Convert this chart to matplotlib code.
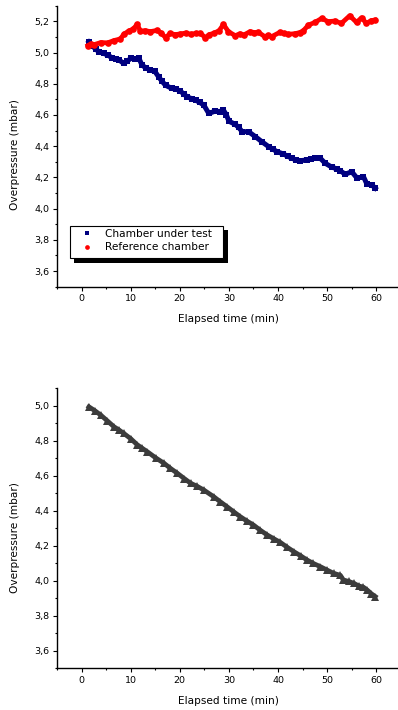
import matplotlib
matplotlib.use("Agg")
import matplotlib.pyplot as plt
from matplotlib.patches import Rectangle
from matplotlib.ticker import MultipleLocator, FuncFormatter

plt.rcParams['font.family'] = ['DejaVu Sans']

# Chamber under test (top panel)
t_test = [1.5, 2.2, 2.85, 3.6, 4.5, 5.3, 6.2, 7.0, 7.6, 8.6, 9.3, 10.0, 10.8, 11.65,
          12.3, 13.2, 14.0, 14.9, 15.7, 16.4, 17.1, 18.4, 19.3, 20.1, 20.8, 21.5,
          22.4, 23.2, 24.1, 24.9, 25.9, 27.25, 28.1, 28.9, 29.5, 30.0, 31.3, 32.0,
          32.7, 34.0, 35.4, 36.7, 38.1, 39.0, 39.8, 41.1, 42.0, 42.8, 43.7, 44.5,
          45.9, 46.8, 47.6, 48.6, 49.6, 51.0, 52.0, 52.7, 53.7, 55.0, 56.1, 57.4,
          58.1, 59.1, 59.8]
p_test = [5.068, 5.045, 5.021, 5.005, 4.994, 4.985, 4.966, 4.958, 4.953, 4.930,
          4.945, 4.962, 4.960, 4.966, 4.919, 4.900, 4.887, 4.880, 4.844, 4.815,
          4.790, 4.770, 4.765, 4.753, 4.735, 4.716, 4.705, 4.695, 4.680, 4.663,
          4.610, 4.625, 4.622, 4.631, 4.600, 4.560, 4.540, 4.520, 4.493, 4.493,
          4.461, 4.429, 4.397, 4.380, 4.365, 4.350, 4.335, 4.323, 4.312, 4.307,
          4.312, 4.318, 4.323, 4.323, 4.291, 4.265, 4.255, 4.242, 4.220, 4.237,
          4.195, 4.205, 4.157, 4.152, 4.131]

# Reference chamber (top panel)
t_ref = [1.3, 1.9, 2.5, 3.9, 5.3, 6.6, 7.9, 8.6, 9.6, 10.5, 11.3, 12.0, 13.0, 14.0,
         15.4, 16.2, 17.1, 18.1, 19.0, 20.1, 21.2, 22.2, 23.2, 24.2, 25.2, 26.0,
         26.9, 28.0, 28.9, 29.9, 31.3, 32.2, 33.0, 34.3, 35.2, 36.0, 37.3, 38.0,
         38.7, 40.4, 41.2, 42.1, 43.5, 44.4, 45.1, 46.2, 47.5, 48.9, 50.2, 51.6,
         52.9, 54.6, 56.0, 57.0, 58.0, 59.0, 59.7]
p_ref = [5.045, 5.055, 5.050, 5.064, 5.062, 5.077, 5.087, 5.117, 5.138, 5.150,
         5.180, 5.138, 5.140, 5.134, 5.142, 5.125, 5.096, 5.123, 5.115, 5.119,
         5.125, 5.117, 5.122, 5.123, 5.096, 5.115, 5.123, 5.140, 5.180, 5.134,
         5.108, 5.120, 5.112, 5.134, 5.128, 5.130, 5.102, 5.110, 5.102, 5.130,
         5.122, 5.117, 5.121, 5.128, 5.138, 5.176, 5.193, 5.219, 5.198, 5.202,
         5.187, 5.236, 5.193, 5.223, 5.187, 5.205, 5.208]

# Corrected overpressure (bottom panel)
t_corr = [1.5, 2.7, 3.9, 5.2, 6.6, 7.6, 8.6, 10.0, 11.3, 12.3, 13.4, 15.1, 16.8,
          18.1, 19.5, 20.9, 22.2, 23.5, 24.9, 26.9, 28.2, 29.6, 31.0, 32.3, 33.7,
          35.0, 36.4, 37.8, 39.1, 40.5, 41.9, 43.2, 44.6, 45.9, 47.2, 48.6, 50.0,
          51.3, 52.7, 53.3, 54.4, 55.4, 56.4, 57.4, 58.2, 59.0, 59.8]
p_corr = [4.994, 4.972, 4.947, 4.915, 4.880, 4.862, 4.842, 4.812, 4.778, 4.758,
          4.737, 4.702, 4.671, 4.642, 4.614, 4.584, 4.557, 4.540, 4.518, 4.480,
          4.452, 4.423, 4.393, 4.366, 4.340, 4.318, 4.288, 4.261, 4.240, 4.218,
          4.190, 4.166, 4.142, 4.118, 4.098, 4.080, 4.060, 4.042, 4.030, 4.004,
          3.995, 3.985, 3.970, 3.962, 3.945, 3.925, 3.909]

x_ticks_major = 10
x_ticks_minor = 5
y_ticks_major = 0.2
y_ticks_minor = 0.1

W, H = 398, 710
fig = plt.figure(figsize=(W / 100, H / 100), dpi=100)


def px_axes(left, top, right, bottom):
    return fig.add_axes([left / W, (H - bottom) / H, (right - left) / W, (bottom - top) / H])


def px_rect(left, top, right, bottom, **kw):
    return Rectangle((left / W, (H - bottom) / H), (right - left) / W, (bottom - top) / H,
                     transform=fig.transFigure, **kw)


comma = FuncFormatter(lambda v, pos: f"{v:.1f}".replace('.', ','))


def style(ax, ymin, ymax, label_y):
    ax.set_xlim(-5, 65)
    ax.set_ylim(ymin, ymax)
    for s in ('top', 'right'):
        ax.spines[s].set_visible(False)
    for s in ('left', 'bottom'):
        ax.spines[s].set_linewidth(1.0)
    ax.xaxis.set_major_locator(MultipleLocator(x_ticks_major))
    ax.xaxis.set_minor_locator(MultipleLocator(x_ticks_minor))
    ax.yaxis.set_major_locator(MultipleLocator(y_ticks_major))
    ax.yaxis.set_minor_locator(MultipleLocator(y_ticks_minor))
    ax.yaxis.set_major_formatter(comma)
    ax.tick_params(which='major', direction='out', length=3, width=0.8,
                   labelsize=6.8, pad=2.5, colors='black')
    ax.tick_params(which='minor', direction='out', length=1.6, width=0.8)
    ax.set_xlabel('Elapsed time (min)', fontsize=7.6, labelpad=8)
    ax.set_ylabel('Overpressure (mbar)', fontsize=7.6)
    ax.yaxis.set_label_coords(-0.108, label_y)


ax1 = px_axes(57, 5.7, 400.8, 286.7)
style(ax1, 3.5, 5.3, 0.469)
ax1.plot(t_test, p_test, color='#000080', lw=3.6, marker='s', ms=4.6,
         markeredgewidth=0, label='Chamber under test', zorder=3)
ax1.plot(t_ref, p_ref, color='#FF0000', lw=3.4, marker='o', ms=4.8,
         markeredgewidth=0, label='Reference chamber', zorder=3)

# Legend box with a solid drop shadow
fig.patches.append(px_rect(74.3, 230.0, 227.6, 262.6, facecolor='black',
                           edgecolor='none', zorder=5))
fig.patches.append(px_rect(70, 225.7, 223.3, 258.3, facecolor='white',
                           edgecolor='black', linewidth=0.8, zorder=6))

handles = [
    plt.Line2D([], [], color='#000080', marker='s', ls='none', ms=3.2, markeredgewidth=0),
    plt.Line2D([], [], color='#FF0000', marker='o', ls='none', ms=3.4, markeredgewidth=0),
]
leg = fig.legend(handles, ['Chamber under test', 'Reference chamber'],
                 loc='upper left', bbox_to_anchor=(70 / W, (H - 225.7) / H),
                 bbox_transform=fig.transFigure, borderaxespad=0,
                 fontsize=7.6, frameon=False,
                 handlelength=2.5, handletextpad=0.45, labelspacing=0.3,
                 borderpad=0.32)
leg.set_zorder(7)

ax2 = px_axes(57, 388.3, 400.8, 668)
style(ax2, 3.5, 5.1, 0.467)
ax2.plot(t_corr, p_corr, color='#3C3C3C', lw=3.4, marker='^', ms=5.6,
         markeredgewidth=0, zorder=3)

fig.savefig('out.png', dpi=100)
